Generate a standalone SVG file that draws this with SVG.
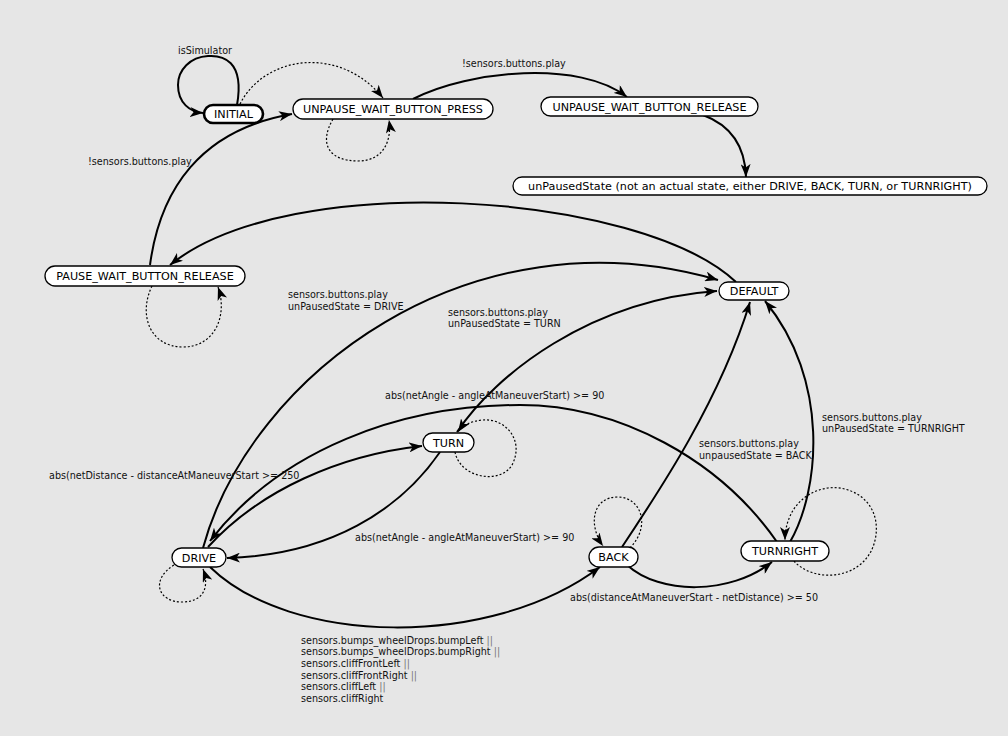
<svg xmlns="http://www.w3.org/2000/svg" width="1008" height="736" viewBox="0 0 1008 736">
<defs>
<marker id="arr" markerWidth="14" markerHeight="10" refX="13" refY="5" orient="auto" markerUnits="userSpaceOnUse">
<path d="M0,0 L13,5 L0,10 L3.5,5 z" fill="#000"/>
</marker>
<style>
.node rect{fill:#fff;stroke:#000;stroke-width:1.3}
.node text{font-family:"DejaVu Sans",sans-serif;font-size:11.2px;text-anchor:middle;fill:#000}
.e{fill:none;stroke:#000;stroke-width:2;marker-end:url(#arr)}
.s{fill:none;stroke:#000;stroke-width:1.2;stroke-dasharray:2,2;marker-end:url(#arr)}
.lbl{font-family:"DejaVu Sans",sans-serif;font-size:9.6px;fill:#111}
.or{fill:#777}
</style>
</defs>
<rect width="1008" height="736" fill="#e6e6e6"/>
<g id="connectors">
<path class="e" d="M237 105 C245 60,222 55,208 56 C190 57,178 70,178 85 C178 103,190 112,203 113"/>
<path class="s" d="M240 104 C265 55,340 45,383 98"/>
<path class="s" d="M333 119 C318 145,330 161,358 161 C384 161,392 140,389 120"/>
<path class="e" d="M413 99 C470 70,580 60,627 97"/>
<path class="e" d="M703 115 C730 125,745 145,746 177"/>
<path class="e" d="M736 282 C640 192,290 168,170 265"/>
<path class="e" d="M150 265 C160 190,200 130,292 114"/>
<path class="s" d="M152 286 C138 315,150 347,183 347 C215 347,228 315,218 287"/>
<path class="e" d="M203 548 C250 375,470 208,718 280"/>
<path class="e" d="M457 432 C495 375,590 300,717 291"/>
<path class="e" d="M622 547 C660 490,720 400,750 302"/>
<path class="e" d="M790 542 C820 490,830 380,765 301"/>
<path class="e" d="M777 542 C720 460,620 405,520 405 C400 405,280 450,210 541"/>
<path class="e" d="M208 547 C260 490,340 455,422 446"/>
<path class="e" d="M440 452 C400 510,330 555,227 558"/>
<path class="s" d="M174 565 C150 580,158 602,182 602 C203 602,210 588,203 569"/>
<path class="e" d="M210 567 C290 645,490 650,600 567"/>
<path class="e" d="M627 565 C660 595,730 595,772 562"/>
<path class="s" d="M630 548 C652 525,640 497,618 497 C592 497,588 525,603 546"/>
<path class="s" d="M794 561 C815 585,870 580,876 535 C880 500,850 485,828 488 C800 492,785 515,785 540"/>
<path class="s" d="M455 452 C460 478,500 485,512 465 C525 440,505 418,483 420 C470 421,462 426,458 432"/>
</g>
<g id="labels">
<text class="lbl" x="178" y="54">isSimulator</text>
<text class="lbl" x="462" y="67">!sensors.buttons.play</text>
<text class="lbl" x="88" y="165">!sensors.buttons.play</text>
<text class="lbl" x="288" y="297.5">sensors.buttons.play</text>
<text class="lbl" x="288" y="309.5">unPausedState = DRIVE</text>
<text class="lbl" x="448" y="315.5">sensors.buttons.play</text>
<text class="lbl" x="448" y="327">unPausedState = TURN</text>
<text class="lbl" x="385" y="399">abs(netAngle - angleAtManeuverStart) &gt;= 90</text>
<text class="lbl" x="822" y="420.5">sensors.buttons.play</text>
<text class="lbl" x="822" y="432">unPausedState = TURNRIGHT</text>
<text class="lbl" x="699" y="447">sensors.buttons.play</text>
<text class="lbl" x="699" y="459">unpausedState = BACK</text>
<text class="lbl" x="49" y="478.5">abs(netDistance - distanceAtManeuverStart &gt;= 250</text>
<text class="lbl" x="355" y="541">abs(netAngle - angleAtManeuverStart) &gt;= 90</text>
<text class="lbl" x="570" y="601">abs(distanceAtManeuverStart - netDistance) &gt;= 50</text>
<text class="lbl" x="301" y="643.5">sensors.bumps_wheelDrops.bumpLeft <tspan class="or">||</tspan></text>
<text class="lbl" x="301" y="655.2">sensors.bumps_wheelDrops.bumpRight <tspan class="or">||</tspan></text>
<text class="lbl" x="301" y="666.9">sensors.cliffFrontLeft <tspan class="or">||</tspan></text>
<text class="lbl" x="301" y="678.6">sensors.cliffFrontRight <tspan class="or">||</tspan></text>
<text class="lbl" x="301" y="690.3">sensors.cliffLeft <tspan class="or">||</tspan></text>
<text class="lbl" x="301" y="702">sensors.cliffRight</text>
</g>
<g id="INITIAL" class="node"><rect x="204" y="105" width="59" height="18" rx="9" style="stroke-width:2.6"/><text x="233.5" y="118">INITIAL</text></g>
<g id="UNPAUSE_WAIT_BUTTON_PRESS" class="node"><rect x="293" y="99" width="200" height="20" rx="10"/><text x="393" y="113">UNPAUSE_WAIT_BUTTON_PRESS</text></g>
<g id="UNPAUSE_WAIT_BUTTON_RELEASE" class="node"><rect x="541" y="97" width="217" height="19" rx="9.5"/><text x="649.5" y="110.5">UNPAUSE_WAIT_BUTTON_RELEASE</text></g>
<g id="unPausedState" class="node"><rect x="513" y="177" width="474" height="18" rx="9"/><text x="750" y="190">unPausedState (not an actual state, either DRIVE, BACK, TURN, or TURNRIGHT)</text></g>
<g id="PAUSE_WAIT_BUTTON_RELEASE" class="node"><rect x="45" y="266" width="200" height="20" rx="10"/><text x="145" y="280">PAUSE_WAIT_BUTTON_RELEASE</text></g>
<g id="DEFAULT" class="node"><rect x="719" y="282" width="70" height="18" rx="9"/><text x="754" y="295">DEFAULT</text></g>
<g id="TURN" class="node"><rect x="423" y="433" width="51" height="19" rx="9.5"/><text x="448.5" y="446.5">TURN</text></g>
<g id="DRIVE" class="node"><rect x="172" y="548" width="54" height="19" rx="9.5"/><text x="199" y="561.5">DRIVE</text></g>
<g id="BACK" class="node"><rect x="589" y="547" width="49" height="20" rx="10"/><text x="613.5" y="561">BACK</text></g>
<g id="TURNRIGHT" class="node"><rect x="741" y="541" width="88" height="20" rx="10"/><text x="785" y="555">TURNRIGHT</text></g>
</svg>
